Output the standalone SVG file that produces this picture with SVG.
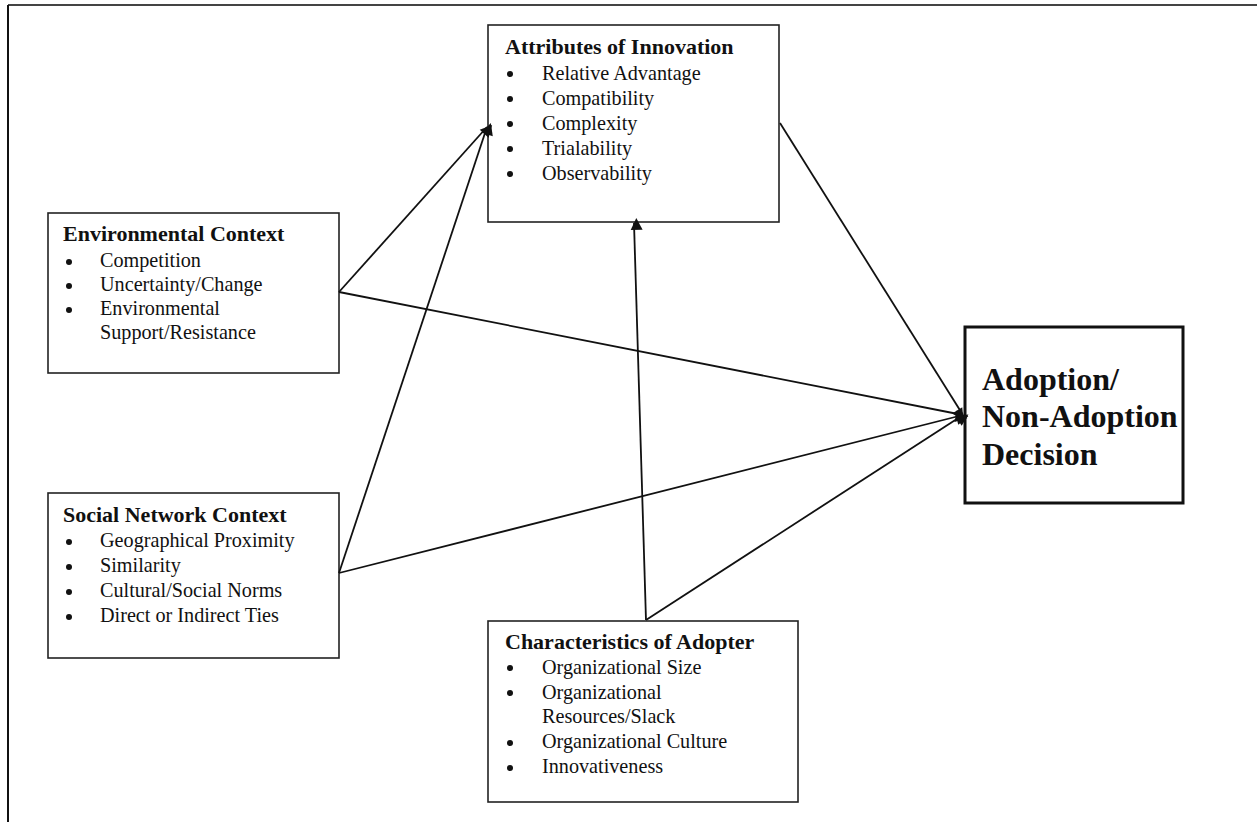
<svg xmlns="http://www.w3.org/2000/svg" width="1257" height="822" viewBox="0 0 1257 822">
<defs>
<style>
.box{fill:#fff;stroke:#222;stroke-width:1.6}
.big{fill:#fff;stroke:#111;stroke-width:3}
.t{font-family:"Liberation Serif","Times New Roman",serif;font-weight:bold;font-size:22px;fill:#111}
.i{font-family:"Liberation Serif","Times New Roman",serif;font-size:20.2px;fill:#111}
.d{font-family:"Liberation Serif","Times New Roman",serif;font-weight:bold;font-size:32px;fill:#111}
.c{stroke:#111;stroke-width:1.8;fill:none;marker-end:url(#ah)}
</style>
<marker id="ah" viewBox="0 0 10 10" refX="10" refY="5" markerWidth="7" markerHeight="7" markerUnits="userSpaceOnUse" orient="auto" overflow="visible">
<path d="M0,0 L10,5 L0,10 z" fill="#111" transform="scale(1.7)"/>
</marker>
</defs>
<rect width="1257" height="822" fill="#fff"/>
<g id="frame">
<line x1="8" y1="5" x2="1257" y2="5" stroke="#444" stroke-width="2"/>
<line x1="8" y1="5" x2="8" y2="822" stroke="#111" stroke-width="2"/>
</g>
<g id="attributes">
<rect class="box" x="488" y="25" width="291" height="197"/>
<text class="t" x="505" y="54">Attributes of Innovation</text>
<g fill="#111"><circle cx="510" cy="74" r="3"/><circle cx="510" cy="99" r="3"/><circle cx="510" cy="124" r="3"/><circle cx="510" cy="149" r="3"/><circle cx="510" cy="174" r="3"/></g>
<text class="i" x="542" y="80">Relative Advantage</text>
<text class="i" x="542" y="105">Compatibility</text>
<text class="i" x="542" y="130">Complexity</text>
<text class="i" x="542" y="155">Trialability</text>
<text class="i" x="542" y="180">Observability</text>
</g>
<g id="environmental">
<rect class="box" x="48" y="213" width="291" height="160"/>
<text class="t" x="63" y="241">Environmental Context</text>
<g fill="#111"><circle cx="69" cy="262" r="3"/><circle cx="69" cy="286" r="3"/><circle cx="69" cy="310" r="3"/></g>
<text class="i" x="100" y="267">Competition</text>
<text class="i" x="100" y="291">Uncertainty/Change</text>
<text class="i" x="100" y="315">Environmental</text>
<text class="i" x="100" y="339">Support/Resistance</text>
</g>
<g id="social">
<rect class="box" x="48" y="493" width="291" height="165"/>
<text class="t" x="63" y="522">Social Network Context</text>
<g fill="#111"><circle cx="69" cy="542" r="3"/><circle cx="69" cy="567" r="3"/><circle cx="69" cy="592" r="3"/><circle cx="69" cy="617" r="3"/></g>
<text class="i" x="100" y="547">Geographical Proximity</text>
<text class="i" x="100" y="572">Similarity</text>
<text class="i" x="100" y="597">Cultural/Social Norms</text>
<text class="i" x="100" y="622">Direct or Indirect Ties</text>
</g>
<g id="characteristics">
<rect class="box" x="488" y="621" width="310" height="181"/>
<text class="t" x="505" y="649">Characteristics of Adopter</text>
<g fill="#111"><circle cx="510" cy="668" r="3"/><circle cx="510" cy="693" r="3"/><circle cx="510" cy="743" r="3"/><circle cx="510" cy="768" r="3"/></g>
<text class="i" x="542" y="674">Organizational Size</text>
<text class="i" x="542" y="699">Organizational</text>
<text class="i" x="542" y="723">Resources/Slack</text>
<text class="i" x="542" y="748">Organizational Culture</text>
<text class="i" x="542" y="773">Innovativeness</text>
</g>
<g id="adoption">
<rect class="big" x="965" y="327" width="218" height="176"/>
<text class="d" x="982" y="390">Adoption/</text>
<text class="d" x="982" y="427">Non-Adoption</text>
<text class="d" x="982" y="465">Decision</text>
</g>
<g id="connectors">
<line class="c" x1="339" y1="292" x2="487" y2="127"/>
<line class="c" x1="339" y1="573" x2="487" y2="127"/>
<line class="c" x1="339" y1="292" x2="963" y2="415"/>
<line class="c" x1="339" y1="573" x2="963" y2="415"/>
<line class="c" x1="646" y1="620" x2="634" y2="223"/>
<line class="c" x1="646" y1="620" x2="963" y2="415"/>
<line class="c" x1="780" y1="123" x2="963" y2="415"/>
</g>
</svg>
